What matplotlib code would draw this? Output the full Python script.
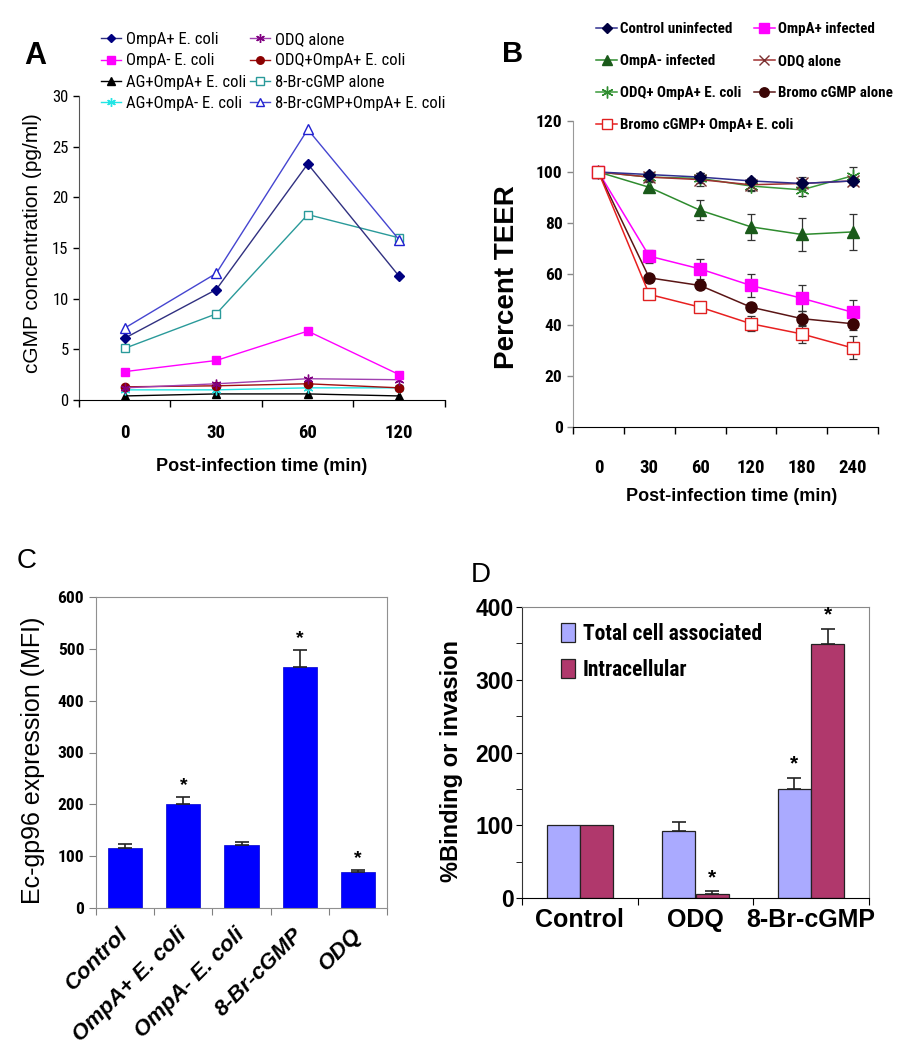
import matplotlib
matplotlib.use('Agg')
import matplotlib.pyplot as plt
import numpy as np
from matplotlib import font_manager

# ---------------- data ----------------
# Panel A: cGMP concentration (pg/ml)
timesA = ['0', '30', '60', '120']
a_ompa_pos = [6.1, 10.9, 23.3, 12.2]
a_ompa_neg = [2.8, 3.9, 6.8, 2.5]
a_ag_pos = [0.4, 0.6, 0.6, 0.4]
a_ag_neg = [1.0, 1.0, 1.2, 1.2]
a_odq = [1.2, 1.6, 2.1, 2.0]
a_odq_pos = [1.3, 1.4, 1.6, 1.2]
a_br = [5.1, 8.5, 18.3, 16.0]
a_br_pos = [7.1, 12.5, 26.7, 15.8]

# Panel B: Percent TEER
timesB = ['0', '30', '60', '120', '180', '240']
b_control = [100, 99, 98, 96.5, 95.5, 96.5]
b_control_err = [2, 1, 1.5, 1, 1.5, 1]
b_ompa_pos = [100, 67, 62, 55.5, 50.5, 45]
b_ompa_pos_err = [2, 2.5, 4, 4.5, 5, 5]
b_ompa_neg = [100, 94, 85, 78.5, 75.5, 76.5]
b_ompa_neg_err = [2, 2, 4, 5, 6.5, 7]
b_odq = [100, 98, 97, 95, 95.5, 96.5]
b_odq_err = [2, 2, 2.5, 2, 2.5, 1.5]
b_odq_pos = [100, 98, 97.5, 94.5, 93, 98.5]
b_odq_pos_err = [2, 1.5, 2, 2, 2.5, 3.5]
b_br = [100, 58.5, 55.5, 47, 42.5, 40.5]
b_br_err = [2, 1.5, 1.5, 1.5, 3, 2.5]
b_br_pos = [100, 52, 47, 40.5, 36.5, 31]
b_br_pos_err = [2, 1.5, 2, 3, 3.5, 4.5]

# Panel C: Ec-gp96 expression (MFI)
catsC = ['Control', 'OmpA+ E. coli', 'OmpA- E. coli', '8-Br-cGMP', 'ODQ']
c_vals = [116, 200, 121, 465, 69]
c_errs = [7, 15, 7, 33, 5]
c_star = [False, True, False, True, True]

# Panel D: %Binding or invasion
catsD = ['Control', 'ODQ', '8-Br-cGMP']
d_total = [100, 92, 150]
d_total_err = [0, 12, 15]
d_total_star = [False, False, True]
d_intra = [100, 6, 349]
d_intra_err = [0, 3, 21]
d_intra_star = [False, True, True]

# ---------------- fonts ----------------
names = {f.name for f in font_manager.fontManager.ttflist}
NARROW = 'Liberation Sans'
NSCALE = 0.82
for cand in ['Liberation Sans Narrow', 'Arial Narrow', 'Roboto Condensed', 'PT Sans Narrow',
             'Open Sans Condensed', 'Asap Condensed', 'Barlow Semi Condensed']:
    if cand in names:
        NARROW = cand
        NSCALE = 1.0
        break
SANS = 'Liberation Sans' if 'Liberation Sans' in names else 'DejaVu Sans'
plt.rcParams['font.family'] = [SANS, 'DejaVu Sans']


def ns(size):
    return size * NSCALE


W, H = 903, 1050
fig = plt.figure(figsize=(W / 100, H / 100), dpi=100)


def axes_px(l, r, t, b):
    return fig.add_axes([l / W, 1 - b / H, (r - l) / W, (b - t) / H])


def fx(px):
    return px / W


def fy(py):
    return 1 - py / H


# ================= Panel A =================
axA = axes_px(79, 445, 96, 400)
xa = np.arange(len(timesA))
seriesA = [
    (a_ag_pos, 'AG+OmpA+ E. coli', dict(color='black', marker='^', ms=6, mfc='black')),
    (a_ag_neg, 'AG+OmpA- E. coli', dict(color='#22E5E5', marker=(6, 2, 0), ms=7, mew=1)),
    (a_odq_pos, 'ODQ+OmpA+ E. coli', dict(color='#A01010', marker='o', ms=6, mfc='#8B0000', mec='#8B0000')),
    (a_odq, 'ODQ alone', dict(color='#A040B0', marker=(6, 2, 0), ms=7, mew=1, mec='#800080')),
    (a_ompa_neg, 'OmpA- E. coli', dict(color='#FF00FF', marker='s', ms=6, mfc='#FF00FF')),
    (a_br, '8-Br-cGMP alone', dict(color='#2A9A9A', marker='s', ms=6, mfc='white', mec='#2A9A9A')),
    (a_ompa_pos, 'OmpA+ E. coli', dict(color='#303080', marker='D', ms=5, mfc='#000080', mec='#000080')),
    (a_br_pos, '8-Br-cGMP+OmpA+ E. coli', dict(color='#4545D0', marker='^', ms=7, mfc='white', mec='#2020D0')),
]
handlesA = {}
for vals, lab, st in seriesA:
    ln, = axA.plot(xa, vals, lw=1.0, label=lab, **st)
    handlesA[lab] = ln
axA.set_xlim(-0.5, 3.5)
axA.set_ylim(0, 30)
axA.set_yticks(np.arange(0, 31, 5))
axA.set_xticks(np.arange(-0.5, 3.6, 1))
axA.set_xticklabels([])
axA.set_xticks(xa, minor=True)
axA.set_xticklabels(timesA, minor=True, fontfamily=NARROW, fontweight='bold', fontsize=ns(13.5))
axA.tick_params(axis='x', which='minor', length=0, pad=17)
axA.tick_params(axis='x', which='major', length=5, direction='out', width=1)
axA.tick_params(axis='y', length=4, width=1, labelsize=ns(12))
for lab in axA.get_yticklabels():
    lab.set_fontfamily(NARROW)
axA.spines['top'].set_visible(False)
axA.spines['right'].set_visible(False)
axA.spines['left'].set_color('#555555')
axA.set_ylabel('cGMP concentration (pg/ml)', fontsize=15)
axA.yaxis.set_label_coords(-0.1, 0.515)
axA.set_xlabel('Post-infection time (min)', fontsize=13, fontweight='bold')
axA.xaxis.set_label_coords(0.5, -0.19)

col1 = ['OmpA+ E. coli', 'OmpA- E. coli', 'AG+OmpA+ E. coli', 'AG+OmpA- E. coli']
col2 = ['ODQ alone', 'ODQ+OmpA+ E. coli', '8-Br-cGMP alone', '8-Br-cGMP+OmpA+ E. coli']
for col, xp in ((col1, 101), (col2, 250)):
    fig.legend([handlesA[c] for c in col], col, loc='upper left', bbox_to_anchor=(fx(xp), fy(32)),
               frameon=False, borderpad=0, borderaxespad=0, handlelength=1.2, handletextpad=0.3,
               labelspacing=0.38, prop=dict(family=NARROW, size=ns(12)), markerscale=0.9)

fig.text(fx(24), fy(64), 'A', fontsize=22, fontweight='bold', ha='left', va='baseline')

# ================= Panel B =================
axB = axes_px(573, 878, 121, 427)
xb = np.arange(len(timesB))
seriesB = [
    (b_ompa_neg, b_ompa_neg_err, 'OmpA- infected', dict(color='#2E8B2E', marker='^', ms=8, mfc='#1A5A1A', mec='#1A5A1A')),
    (b_odq_pos, b_odq_pos_err, 'ODQ+ OmpA+ E. coli', dict(color='#3A9A3A', marker=(6, 2, 0), ms=10, mew=1.0, mec='#2E8B2E')),
    (b_odq, b_odq_err, 'ODQ alone', dict(color='#A03030', marker='x', ms=8, mew=1.0, mec='#7A3030')),
    (b_control, b_control_err, 'Control uninfected', dict(color='#303090', marker='D', ms=6, mfc='#000040', mec='#000040')),
    (b_ompa_pos, b_ompa_pos_err, 'OmpA+ infected', dict(color='#FF00FF', marker='s', ms=8, mfc='#FF00FF')),
    (b_br, b_br_err, 'Bromo cGMP alone', dict(color='#5A1515', marker='o', ms=8, mfc='#3A0505', mec='#3A0505')),
    (b_br_pos, b_br_pos_err, 'Bromo cGMP+ OmpA+ E. coli', dict(color='#E82020', marker='s', ms=8, mfc='white', mec='#E02020')),
]
handlesB = {}
for vals, err, lab, st in seriesB:
    axB.errorbar(xb, vals, yerr=err, fmt='none', ecolor='#333333', elinewidth=0.9, capsize=3, capthick=0.9, zorder=2)
    ln, = axB.plot(xb, vals, lw=1.1, label=lab, zorder=3, **st)
    handlesB[lab] = ln
axB.set_xlim(-0.5, 5.5)
axB.set_ylim(0, 120)
axB.set_yticks(np.arange(0, 121, 20))
axB.set_xticks(np.arange(-0.5, 5.6, 1))
axB.set_xticklabels([])
axB.set_xticks(xb, minor=True)
axB.set_xticklabels(timesB, minor=True, fontfamily=NARROW, fontweight='bold', fontsize=ns(13.5))
axB.tick_params(axis='x', which='minor', length=0, pad=23)
axB.tick_params(axis='x', which='major', length=5, direction='out', width=1)
axB.tick_params(axis='y', length=4, width=1, color='#888888', labelsize=ns(12.5))
for lab in axB.get_yticklabels():
    lab.set_fontfamily(NARROW)
    lab.set_fontweight('bold')
axB.spines['top'].set_visible(False)
axB.spines['right'].set_visible(False)
axB.spines['left'].set_color('#999999')
axB.set_ylabel('Percent TEER', fontsize=20, fontweight='bold')
axB.yaxis.set_label_coords(-0.175, 0.49)
axB.set_xlabel('Post-infection time (min)', fontsize=13, fontweight='bold')
axB.xaxis.set_label_coords(0.52, -0.2)

colB1 = ['Control uninfected', 'OmpA- infected', 'ODQ+ OmpA+ E. coli', 'Bromo cGMP+ OmpA+ E. coli']
colB2 = ['OmpA+ infected', 'ODQ alone', 'Bromo cGMP alone']
for col, xp in ((colB1, 596), (colB2, 754)):
    fig.legend([handlesB[c] for c in col], col, loc='upper left', bbox_to_anchor=(fx(xp), fy(22)),
               frameon=False, borderpad=0, borderaxespad=0, handlelength=1.4, handletextpad=0.2,
               labelspacing=1.2, prop=dict(family=NARROW, size=ns(10.8), weight='bold'), markerscale=0.85)

fig.text(fx(502), fy(62), 'B', fontsize=21, fontweight='bold', ha='left', va='baseline')

# ================= Panel C =================
axC = axes_px(96, 387, 597, 908)
xc = np.arange(len(catsC))
axC.bar(xc, c_vals, width=0.59, color='#0000FF', edgecolor='#0000CC', linewidth=0.5, zorder=2)
axC.errorbar(xc, c_vals, yerr=[np.zeros(len(c_errs)), c_errs], fmt='none', ecolor='#222222',
             elinewidth=1.2, capsize=5, capthick=1.2, zorder=3)
for xi, v, e, s in zip(xc, c_vals, c_errs, c_star):
    if s:
        axC.annotate('*', (xi, v + e), xytext=(0, 2), textcoords='offset points', ha='center',
                     va='bottom', fontsize=14, fontweight='bold')
axC.set_xlim(-0.5, 4.5)
axC.set_ylim(0, 600)
axC.set_yticks(np.arange(0, 601, 100))
axC.set_xticks(np.arange(-0.5, 4.6, 1))
axC.set_xticklabels([])
axC.set_xticks(xc, minor=True)
axC.set_xticklabels(catsC, minor=True, rotation=45, ha='right', va='center', rotation_mode='anchor',
                    fontfamily=SANS, fontweight='bold', fontstyle='italic', fontsize=16)
axC.tick_params(axis='x', which='minor', length=0, pad=17)
axC.tick_params(axis='x', which='major', length=5, direction='out', color='#808080')
axC.tick_params(axis='y', length=5, color='#808080', labelsize=ns(12.5))
for lab in axC.get_yticklabels():
    lab.set_fontfamily(NARROW)
    lab.set_fontweight('bold')
for sp in axC.spines.values():
    sp.set_color('#909090')
axC.set_ylabel('Ec-gp96 expression (MFI)', fontsize=18)
axC.yaxis.set_label_coords(-0.175, 0.476)
fig.text(fx(17), fy(568), 'C', fontsize=20, ha='left', va='baseline')

# ================= Panel D =================
axD = axes_px(522, 869, 607, 898)
xd = np.arange(len(catsD))
wd = 0.285
off = 0.145
axD.bar(xd - off, d_total, width=wd, color='#AAAAFF', edgecolor='#222222', linewidth=0.9,
        label='Total cell associated', zorder=2)
axD.bar(xd + off, d_intra, width=wd, color='#B0386C', edgecolor='#222222', linewidth=0.9,
        label='Intracellular', zorder=2)
for xs, vals, errs, stars in ((xd - off, d_total, d_total_err, d_total_star),
                              (xd + off, d_intra, d_intra_err, d_intra_star)):
    for xi, v, e, s in zip(xs, vals, errs, stars):
        if e > 0:
            axD.errorbar([xi], [v], yerr=[[0], [e]], fmt='none', ecolor='#222222', elinewidth=1.2,
                         capsize=5, capthick=1.2, zorder=3)
        if s:
            axD.annotate('*', (xi, v + e), xytext=(0, 3), textcoords='offset points', ha='center',
                         va='bottom', fontsize=15, fontweight='bold')
axD.set_xlim(-0.5, 2.5)
axD.set_ylim(0, 400)
axD.set_yticks(np.arange(0, 401, 100))
axD.set_yticks(np.arange(50, 400, 100), minor=True)
axD.set_xticks(np.arange(-0.5, 2.6, 1))
axD.set_xticklabels([])
axD.set_xticks(xd, minor=True)
axD.set_xticklabels(catsD, minor=True, fontfamily=SANS, fontweight='bold', fontsize=18)
axD.tick_params(axis='x', which='minor', length=0, pad=7)
axD.tick_params(axis='x', which='major', length=5, direction='out')
axD.tick_params(axis='y', which='both', length=4, labelsize=16.5, pad=2)
for lab in axD.get_yticklabels():
    lab.set_fontweight('bold')
for side in ('top', 'right'):
    axD.spines[side].set_color('#888888')
axD.spines['left'].set_color('#333333')
axD.set_ylabel('%Binding or invasion', fontsize=17, fontweight='bold')
axD.yaxis.set_label_coords(-0.17, 0.47)
axD.legend(loc='upper left', bbox_to_anchor=(0.113, 0.945), frameon=False, borderpad=0,
           borderaxespad=0, handlelength=0.65, handleheight=1.0, handletextpad=0.35,
           labelspacing=0.65, prop=dict(family=NARROW, size=ns(15.5), weight='bold'))
fig.text(fx(471), fy(582), 'D', fontsize=20, ha='left', va='baseline')

fig.savefig('out.png', dpi=100)
